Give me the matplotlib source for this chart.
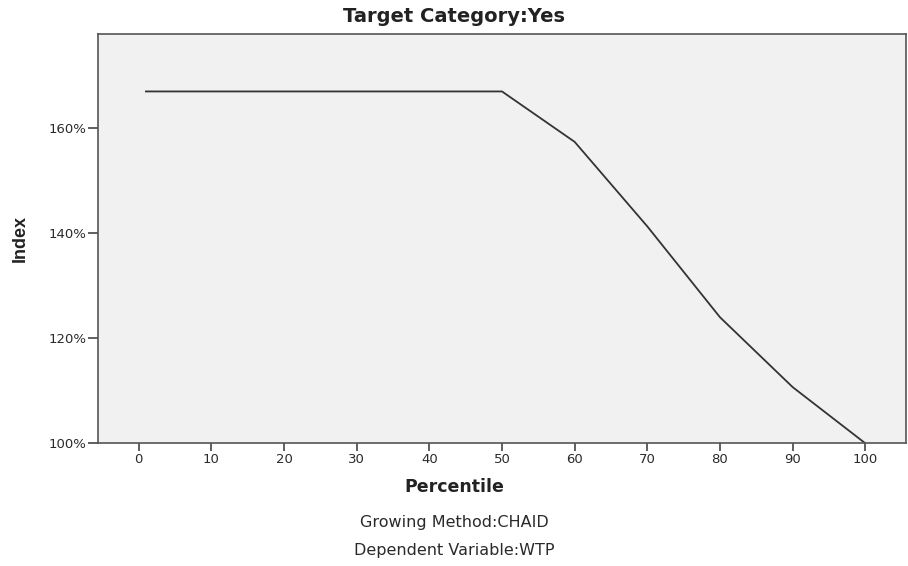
import matplotlib
matplotlib.use("Agg")
from matplotlib import pyplot as plt
from matplotlib.ticker import FuncFormatter

percentile = [1, 50, 60, 70, 80, 90, 100]
index_pct = [167.0, 167.0, 157.4, 141.3, 124.0, 110.7, 100.0]

xticks = [0, 10, 20, 30, 40, 50, 60, 70, 80, 90, 100]
yticks = [100, 120, 140, 160]

# the reference is stretched sideways, so the wider DejaVu glyphs fit better
plt.rcParams['font.family'] = ['DejaVu Sans']

fig = plt.figure(figsize=(9.08, 5.66), dpi=100)
ax = fig.add_axes([0.1079, 0.2168, 0.8899, 0.7237])
ax.set_facecolor('#f0f1f0')

ax.plot(percentile, index_pct, color='#333333', linewidth=1.3)

ax.set_xlim(-5.6, 105.6)
ax.set_ylim(100, 178)
ax.set_xticks(xticks)
ax.set_yticks(yticks)
ax.yaxis.set_major_formatter(FuncFormatter(lambda v, p: '%d%%' % v))
ax.tick_params(direction='out', width=1.2, color='#444444',
               labelsize=9.5, labelcolor='#2a2a2a')
ax.tick_params(axis='x', length=5.5, pad=1.5)
ax.tick_params(axis='y', length=7.5, pad=1)

for side, sp in ax.spines.items():
    sp.set_color('#555555')
    sp.set_linewidth(1.2)

fig.text(0.5, 1 - 17 / 566, 'Target Category:Yes', ha='center', va='center',
         fontsize=14, fontweight='bold', color='#222222')
fig.text(0.5, 1 - 487 / 566, 'Percentile', ha='center', va='center',
         fontsize=12.5, fontweight='bold', color='#222222')
fig.text(20 / 908, 1 - 238 / 566, 'Index', ha='center', va='center', rotation=90,
         fontsize=13, fontweight='bold', color='#222222',
         family=['Liberation Sans', 'DejaVu Sans'])
fig.text(0.5, 1 - 523 / 566, 'Growing Method:CHAID', ha='center', va='center',
         fontsize=11.5, color='#2a2a2a')
fig.text(0.5, 1 - 551 / 566, 'Dependent Variable:WTP', ha='center', va='center',
         fontsize=11.5, color='#2a2a2a')

fig.savefig('out.png', dpi=100)
plt.close(fig)
